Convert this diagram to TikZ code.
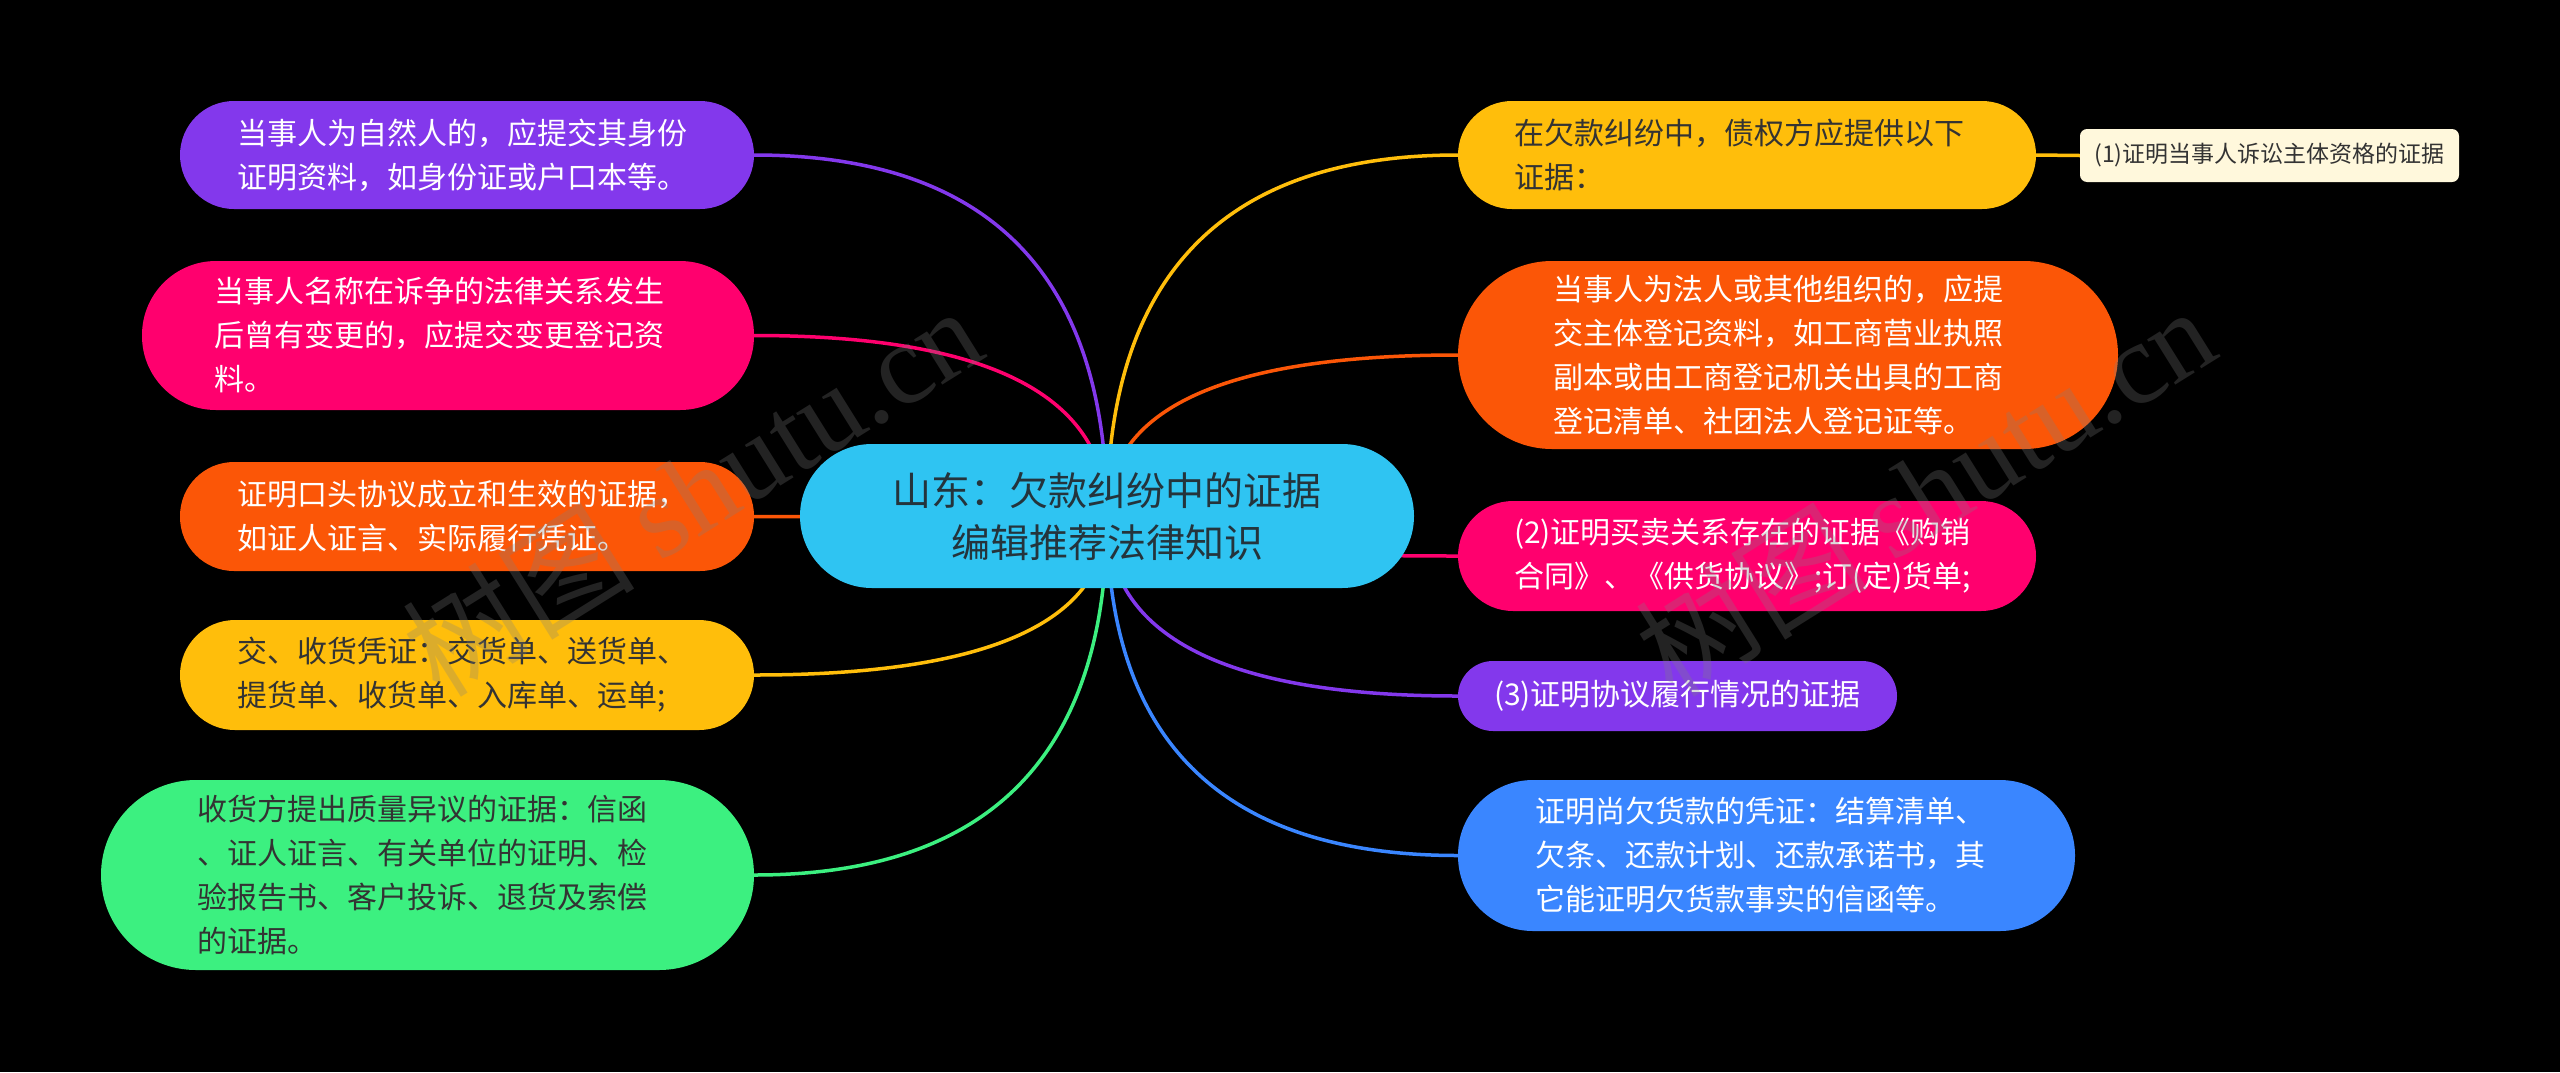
\documentclass[tikz,border=0pt]{standalone}
\usepackage{fontspec}
\setmainfont{Noto Sans CJK SC}
\newfontfamily\wmfont{Liberation Serif}
\usetikzlibrary{calc}
\definecolor{cPurple}{HTML}{8338EC}
\definecolor{cPink}{HTML}{FF006E}
\definecolor{cOrange}{HTML}{FB5607}
\definecolor{cYellow}{HTML}{FFBE0B}
\definecolor{cGreen}{HTML}{3CF080}
\definecolor{cBlue}{HTML}{3A86FF}
\definecolor{cCenter}{HTML}{2FC4F2}
\definecolor{cCream}{HTML}{FFF8DC}
\definecolor{cDark}{HTML}{333333}
\definecolor{cCenterText}{HTML}{24343C}
\pgfdeclarelayer{bg}
\pgfdeclarelayer{lines}
\pgfsetlayers{bg,lines,main}
\tikzset{
  topic/.style={align=left, inner ysep=0pt, font=\fontsize{30}{44}\selectfont},
  conn/.style={line width=3.5pt},
  wm/.style={text=gray, text opacity=0.28, font=\fontsize{116}{116}\selectfont, rotate=32}
}
\begin{document}
\begin{tikzpicture}[x=1pt,y=-1pt]
\useasboundingbox (0,0) rectangle (2560,1072);
\begin{pgfonlayer}{bg}
\fill[black] (0,0) rectangle (2560,1072);
\end{pgfonlayer}

% central topic
\node[fill=cCenter, text=cCenterText, align=center, inner xsep=0pt, inner ysep=0pt,
      text width=614pt, minimum height=144pt, rounded corners=72pt,
      font=\fontsize{39}{52}\selectfont] (C) at (1107,516)
  {山东：欠款纠纷中的证据\\编辑推荐法律知识};

% left branches
\node[topic, fill=cPurple, text=white, text width=460pt, inner xsep=57pt,
      minimum height=108pt, rounded corners=54pt] (L1) at (467,155)
  {当事人为自然人的，应提交其身份\\证明资料，如身份证或户口本等。};
\node[topic, fill=cPink, text=white, text width=468pt, inner xsep=72pt,
      minimum height=149pt, rounded corners=74pt] (L2) at (448,335.5)
  {当事人名称在诉争的法律关系发生\\后曾有变更的，应提交变更登记资\\料。};
\node[topic, fill=cOrange, text=white, text width=460pt, inner xsep=57pt,
      minimum height=109pt, rounded corners=54pt] (L3) at (467,516.5)
  {证明口头协议成立和生效的证据，\\如证人证言、实际履行凭证。};
\node[topic, fill=cYellow, text=cDark, text width=460pt, inner xsep=57pt,
      minimum height=110pt, rounded corners=55pt] (L4) at (467,675)
  {交、收货凭证：交货单、送货单、\\提货单、收货单、入库单、运单;};
\node[topic, fill=cGreen, text=cDark, text width=461pt, inner xsep=96pt,
      minimum height=190pt, rounded corners=95pt] (L5) at (427.5,875)
  {收货方提出质量异议的证据：信函\\、证人证言、有关单位的证明、检\\验报告书、客户投诉、退货及索偿\\的证据。};

% right branches
\node[topic, fill=cYellow, text=cDark, text width=466pt, inner xsep=56pt,
      minimum height=108pt, rounded corners=54pt] (R1) at (1747,155)
  {在欠款纠纷中，债权方应提供以下\\证据：};
\node[fill=cCream, text=cDark, align=center, inner sep=0pt,
      minimum width=379pt, minimum height=53pt, rounded corners=7pt,
      font=\fontsize{23}{28}\selectfont] (R1a) at (2269.5,155.5)
  {(1)证明当事人诉讼主体资格的证据};
\node[topic, fill=cOrange, text=white, text width=470pt, inner xsep=95pt,
      minimum height=188pt, rounded corners=94pt] (R2) at (1788,355)
  {当事人为法人或其他组织的，应提\\交主体登记资料，如工商营业执照\\副本或由工商登记机关出具的工商\\登记清单、社团法人登记证等。};
\node[topic, fill=cPink, text=white, text width=466pt, inner xsep=56pt,
      minimum height=110pt, rounded corners=55pt] (R3) at (1747,556)
  {(2)证明买卖关系存在的证据《购销\\合同》、《供货协议》;订(定)货单;};
\node[topic, fill=cPurple, text=white, text width=367pt, inner xsep=36pt,
      minimum height=70pt, rounded corners=35pt] (R4) at (1677.5,696)
  {(3)证明协议履行情况的证据};
\node[topic, fill=cBlue, text=white, text width=463pt, inner xsep=77pt,
      minimum height=151pt, rounded corners=75pt] (R5) at (1766.5,855.5)
  {证明尚欠货款的凭证：结算清单、\\欠条、还款计划、还款承诺书，其\\它能证明欠货款事实的信函等。};

% connectors
\begin{pgfonlayer}{lines}
\foreach \n/\c in {L1/cPurple, L2/cPink, L3/cOrange, L4/cYellow, L5/cGreen} {
  \draw[conn, draw=\c] (C.center)
    .. controls ($(C.center)!0.6667!(C.center |- \n.east)$)
    and ($(\n.east)!0.6667!(C.center |- \n.east)$) .. (\n.east);
}
\foreach \n/\c in {R1/cYellow, R2/cOrange, R3/cPink, R4/cPurple, R5/cBlue} {
  \draw[conn, draw=\c] (C.center)
    .. controls ($(C.center)!0.6667!(C.center |- \n.west)$)
    and ($(\n.west)!0.6667!(C.center |- \n.west)$) .. (\n.west);
}
\draw[conn, draw=cYellow] (R1.east) -- (R1a.west);
\end{pgfonlayer}

% watermark
\node[wm] (W1) at (692,490) {树图 {\wmfont shutu.cn}};
\node[wm] (W2) at (1925,490) {树图 {\wmfont shutu.cn}};
\end{tikzpicture}
\end{document}
